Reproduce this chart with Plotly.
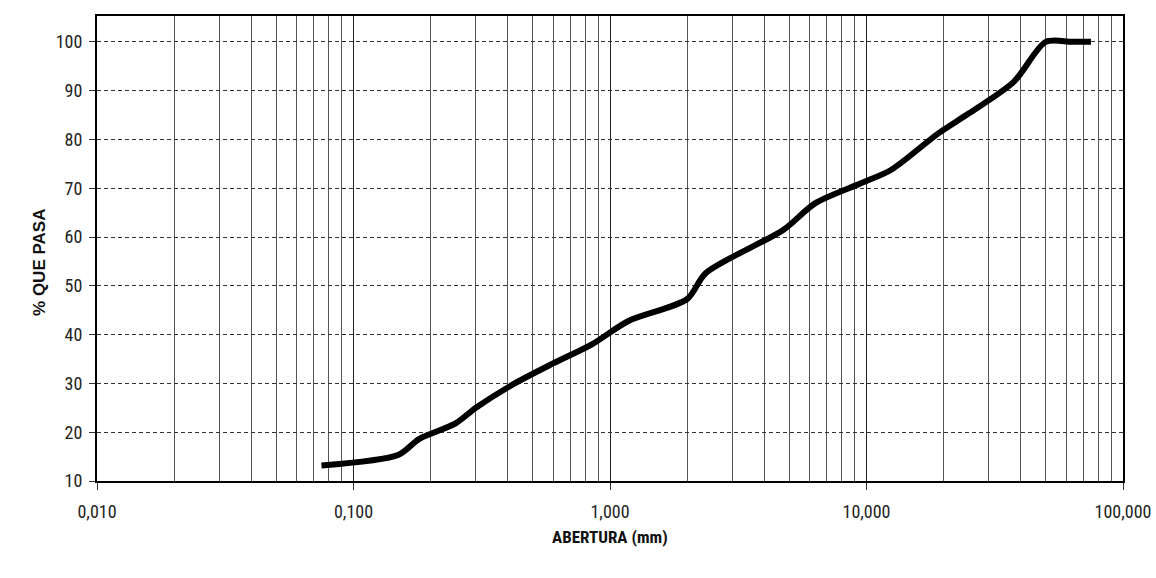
import plotly.graph_objects as go

# Sieve openings (mm) and percent passing
abertura = [0.075, 0.15, 0.18, 0.25, 0.30, 0.425, 0.60, 0.85, 1.18, 2.00, 2.36,
            4.75, 6.30, 9.50, 12.50, 19.00, 25.00, 37.50, 50.00, 63.00, 75.00]
pasa = [13.2, 15.4, 18.6, 21.8, 25.0, 30.0, 34.1, 38.0, 42.8, 47.3, 52.6,
        61.5, 66.9, 71.0, 73.8, 81.2, 85.3, 91.8, 100.0, 100.0, 100.0]

x_tickvals = [0.01, 0.1, 1, 10, 100]
x_ticktext = ["0,010", "0,100", "1,000", "10,000", "100,000"]
x_minor = [m * 10 ** e for e in (-2, -1, 0, 1) for m in range(2, 10)]
y_tickvals = [10, 20, 30, 40, 50, 60, 70, 80, 90, 100]

tick_font = dict(family="Roboto Condensed, Liberation Sans Narrow, Arial Narrow", size=18, color="#222")

fig = go.Figure()
fig.add_trace(go.Scatter(
    x=abertura, y=pasa, mode="lines",
    line=dict(color="black", width=6, shape="spline", smoothing=0.8),
    showlegend=False, hoverinfo="skip",
))

fig.update_layout(
    width=1156, height=578,
    margin=dict(l=97, r=33, t=16, b=97, autoexpand=False),
    paper_bgcolor="white", plot_bgcolor="white",
    font=tick_font,
    xaxis=dict(
        type="log", range=[-2, 2], automargin=False,
        tickvals=x_tickvals, ticktext=x_ticktext,
        ticks="outside", ticklen=7, tickwidth=1, tickcolor="#333",
        ticklabelstandoff=6,
        showgrid=True, gridcolor="#222", gridwidth=1,
        minor=dict(tickvals=x_minor, showgrid=True, gridcolor="#555",
                   gridwidth=1, ticks=""),
        showline=True, linecolor="black", linewidth=2, mirror=True,
        tickfont=tick_font, zeroline=False,
    ),
    yaxis=dict(
        range=[10, 105.3], automargin=False,
        tickvals=y_tickvals,
        ticks="outside", ticklen=6, tickwidth=1, tickcolor="#333",
        ticklabelstandoff=3,
        showgrid=True, gridcolor="#333", gridwidth=1, griddash="4px,3px",
        showline=True, linecolor="black", linewidth=2, mirror=True,
        tickfont=tick_font, zeroline=False,
    ),
    annotations=[
        dict(text="<b>ABERTURA (mm)</b>", xref="paper", yref="paper",
             x=0.5, y=-0.12, yanchor="middle", xanchor="center", showarrow=False,
             font=dict(family="Roboto Condensed, Arial Narrow", size=17, color="#111")),
        dict(text="<b>% QUE PASA</b>", xref="paper", yref="paper",
             x=-0.0556, y=0.471, xanchor="center", yanchor="middle", textangle=-90,
             showarrow=False,
             font=dict(family="Liberation Sans, Arial", size=17, color="#111")),
    ],
)

fig.write_html("out.html")
